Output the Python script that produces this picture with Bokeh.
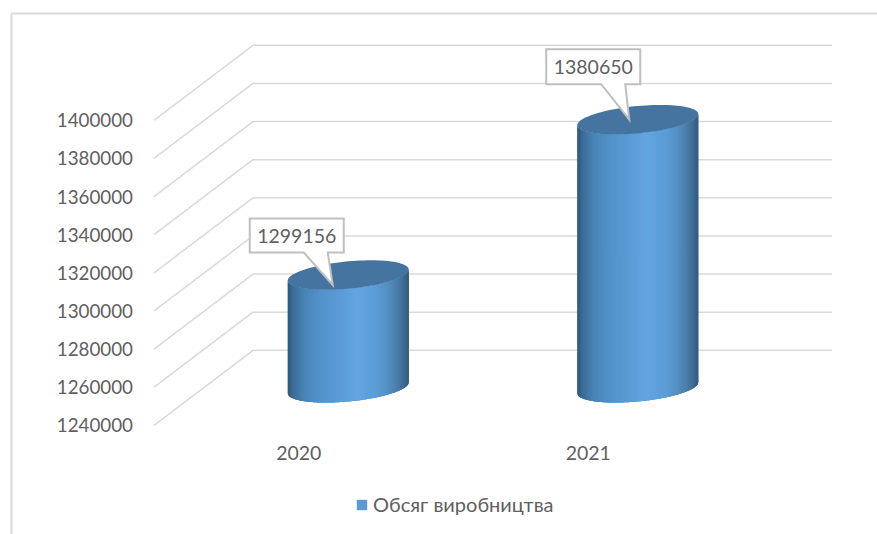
from bokeh.core.properties import value
from bokeh.embed import file_html
from bokeh.models import FixedTicker, Legend, LegendItem, LinearAxis, NumeralTickFormatter, Range1d
from bokeh.plotting import figure
from bokeh.resources import INLINE
import math

# Chart data
years = ["2020", "2021"]
production = [1299156, 1380650]
series_name = "Обсяг виробництва"
y_ticks = [1240000, 1260000, 1280000, 1300000, 1320000, 1340000, 1360000, 1380000, 1400000]

W, H = 877, 534
FONT = "Lato"
TEXT = "#606060"
GRID = "#d9d9d9"
BORDER = "#d9d9d9"
CALLOUT = "#bfbfbf"
CAP = "#44749f"
BASE = "#5b9bd5"

# Front plane of the 3D box: category units across, axis values up.
PX_PER_CAT = 289.5
FRONT_LEFT = 153.5
PX_PER_VAL = 305 / 160000
FRONT_TOP = 119.8  # pixel row of the top tick on the front plane
DEPTH_PX_X, DEPTH_PX_Y = 99, 75


def dx(px):
    return px / PX_PER_CAT


def dy(px):
    return px / PX_PER_VAL


def xc(px):
    return (px - FRONT_LEFT) / PX_PER_CAT


def yc(px):
    return y_ticks[-1] + (FRONT_TOP - px) / PX_PER_VAL


p = figure(
    width=W, height=H, output_backend="svg", toolbar_location=None,
    x_range=Range1d(xc(0), xc(W)), y_range=Range1d(yc(H), yc(0)),
    x_axis_type=None, y_axis_type=None,
    min_border=0, min_border_left=0, min_border_right=0, min_border_top=0, min_border_bottom=0,
    background_fill_color="white", border_fill_color="white", outline_line_color=None,
)
p.grid.visible = False

# Chart frame: only the top and left edges show
p.line([xc(11), xc(11), xc(W)], [yc(H), yc(13), yc(13)], line_color=BORDER, line_width=2)

# Gridlines: floor-side diagonal and back wall
for v in y_ticks:
    p.line(
        [0, dx(DEPTH_PX_X), 2 + dx(DEPTH_PX_X)],
        [v, v + dy(DEPTH_PX_Y), v + dy(DEPTH_PX_Y)],
        line_color=GRID, line_width=1.5,
    )

# Shading stops across the cylinder, from left edge to right edge
stops = [
    (0.00, "#2f5778"), (0.04, "#3a6b95"), (0.13, "#4883b4"), (0.28, "#5393cb"),
    (0.42, "#5b9bd5"), (0.58, "#62a5e2"), (0.74, "#5b9bd5"), (0.82, "#5590c4"),
    (0.90, "#4a7fac"), (0.96, "#3d6a92"), (1.00, "#325a7c"),
]


def shade(t):
    for (a, ca), (b, cb) in zip(stops, stops[1:]):
        if t <= b:
            f = (t - a) / (b - a)
            rgb = [round(int(ca[i:i + 2], 16) * (1 - f) + int(cb[i:i + 2], 16) * f) for i in (1, 3, 5)]
            return "#%02x%02x%02x" % tuple(rgb)
    return stops[-1][1]


SEMI_X, SEMI_Y, TILT = 60.5, 13.7, 5.5
centre_x = [i + 0.5 + dx(DEPTH_PX_X / 2) for i in range(len(years))]
mid_lift = dy(DEPTH_PX_Y / 2)


def rim(cx, cy, angle):
    """Point on the tilted elliptical rim of a cylinder, pixels measured downward."""
    return (cx + dx(SEMI_X * math.cos(angle)),
            cy - dy(SEMI_Y * math.sin(angle) - TILT * math.cos(angle)))


def front_arc(cx, cy, x0, x1):
    c0, c1 = max(-1, min(1, x0)), max(-1, min(1, x1))
    angles = [math.acos(c0 + (c1 - c0) * k / 3) for k in range(4)]
    return [rim(cx, cy, a) for a in angles]


body_renderers = []
N = 121
for cx, v in zip(centre_x, production):
    top_c = v + mid_lift
    base_c = y_ticks[0] + mid_lift

    # Solid body beneath the shading strips
    angles = [math.pi * k / 48 for k in range(49)]
    low = [rim(cx, base_c, a) for a in angles]
    up = [rim(cx, top_c, a) for a in reversed(angles)]
    body_renderers.append(p.patch([q[0] for q in low + up], [q[1] for q in low + up],
                                  fill_color=BASE, line_color=None))
    for k in range(N):
        s0, s1 = -1 + 2 * k / N, -1 + 2 * (k + 1) / N + 0.02
        lower = front_arc(cx, base_c, s0, s1)
        upper = front_arc(cx, top_c, s1, s0)
        pts = lower + upper
        p.patch([q[0] for q in pts], [q[1] for q in pts], fill_color=shade((k + 0.5) / N), line_color=None)

    # Top cap
    ring = [rim(cx, top_c, 2 * math.pi * k / 96) for k in range(97)]
    p.patch([q[0] for q in ring], [q[1] for q in ring], fill_color=CAP, line_color=None)

# Value callouts: offsets in pixels from the cap centre
callout_tip = [(-15.5, 10), (-8.5, 0)]
callout_box = [(-98.5, -56.5, -4.5, -22.5), (-91.5, -70.5, 2.5, -35.5)]
callout_base = [(-44.5, -20.5), (-36.5, -12.5)]
for cx, v, tip, box, base in zip(centre_x, production, callout_tip, callout_box, callout_base):
    cy = v + mid_lift
    l, t, r, b = box
    path = [(l, t), (r, t), (r, b), (base[1], b), tip, (base[0], b), (l, b)]
    xs = [cx + dx(a) for a, _ in path]
    ys = [cy - dy(c) for _, c in path]
    p.patch(xs, ys, fill_color="white", line_color=CALLOUT, line_width=2, line_join="miter")
    p.text([cx + dx((l + r) / 2)], [cy - dy((t + b) / 2)], text=[str(v)],
           text_font=value(FONT), text_font_size="19.5px", text_color=TEXT,
           text_align="center", text_baseline="middle")

# Axes sit on the front plane of the box
y_axis = LinearAxis(
    fixed_location=0, ticker=FixedTicker(ticks=y_ticks),
    formatter=NumeralTickFormatter(format="0"),
    axis_line_color=None, major_tick_line_color=None, minor_tick_line_color=None,
    major_label_text_font=FONT, major_label_text_font_size="18.8px",
    major_label_text_color=TEXT, major_label_standoff=15,
)
p.add_layout(y_axis, "left")
x_axis = LinearAxis(
    fixed_location=y_ticks[0], ticker=FixedTicker(ticks=[0.5, 1.5]),
    major_label_overrides={0.5: years[0], 1.5: years[1]},
    axis_line_color=None, major_tick_line_color=None, minor_tick_line_color=None,
    major_label_text_font=FONT, major_label_text_font_size="19.5px",
    major_label_text_color=TEXT, major_label_standoff=15,
)
p.add_layout(x_axis, "below")

legend = Legend(
    items=[LegendItem(label=series_name, renderers=[body_renderers[0]])],
    location=(355, 18), orientation="horizontal",
    background_fill_alpha=0, border_line_color=None,
    glyph_width=13, glyph_height=13, label_standoff=5,
    label_text_font=FONT, label_text_font_size="20px", label_text_color=TEXT,
    margin=0, padding=4,
)
p.add_layout(legend, "center")

open("out.html", "w").write(file_html(p, INLINE))
